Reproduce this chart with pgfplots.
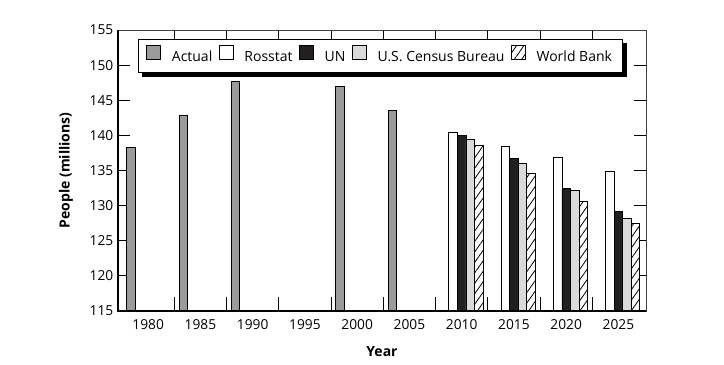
\documentclass[border=0pt]{standalone}
\usepackage{fontspec}
\setmainfont{Open Sans}
\usepackage{pgfplots}
\pgfplotsset{compat=1.18}
\usetikzlibrary{patterns.meta,calc,backgrounds}

\definecolor{actual}{HTML}{9B9B9B}
\definecolor{census}{HTML}{DADADA}
\definecolor{unc}{HTML}{231F20}

\begin{document}
\begin{tikzpicture}
\begin{axis}[
  scale only axis, width=396pt, height=210.75pt,
  xmin=-0.577, xmax=9.528, ymin=115, ymax=155,
  ytick={115,120,...,155},
  xtick={0,1,2,3,4,5,6,7,8,9},
  xticklabels={1980,1985,1990,1995,2000,2005,2010,2015,2020,2025},
  minor xtick={0.5,1.5,2.5,3.5,4.5,5.5,6.5,7.5,8.5},
  major x tick style={draw=none},
  tick align=inside,
  major tick length=9pt,
  minor tick length=10.5pt,
  tick style={black, line width=0.6pt},
  axis line style={draw=black!75, line width=0.6pt},
  /pgf/number format/assume math mode=true,
  tick label style={font=\fontsize{10.3}{12}\selectfont},
  xticklabel style={yshift=-3pt},
  xlabel={\textbf{Year}},
  ylabel={\textbf{People (millions)}},
  label style={font=\fontsize{10.5}{12}\selectfont},
  xlabel style={at={(axis description cs:0.5,-0.146)}, anchor=center},
  ylabel style={at={(axis description cs:-0.0985,0.5)}, anchor=center},
  legend columns=-1,
  legend style={name=leg, at={(rel axis cs:0.038,0.968)}, anchor=north west,
    draw=black, line width=0.6pt, fill=white,
    font=\fontsize{10.5}{12}\selectfont,
    inner xsep=6pt, inner ysep=4.5pt,
    /tikz/every even column/.append style={column sep=3pt},
    /tikz/every odd column/.append style={column sep=6pt}},
  legend image code/.code={\draw[#1, line width=0.6pt] (0pt,-2pt) rectangle (10.5pt,8.5pt);},
  bar width=0.163,
]
\addplot[ybar, bar shift=-0.326, fill=actual, draw=black, line width=0.6pt]
  coordinates {(0,138.3) (1,142.9) (2,147.7) (4,147.0) (5,143.5)};
\addplot[ybar, bar shift=-0.163, fill=white, draw=black, line width=0.6pt]
  coordinates {(6,140.4) (7,138.4) (8,136.9) (9,134.9)};
\addplot[ybar, bar shift=0, fill=unc, draw=black, line width=0.6pt]
  coordinates {(6,140.0) (7,136.7) (8,132.4) (9,129.2)};
\addplot[ybar, bar shift=0.163, fill=census, draw=black, line width=0.6pt]
  coordinates {(6,139.4) (7,136.0) (8,132.2) (9,128.2)};
\addplot[ybar, bar shift=0.326, fill=white, draw=black, line width=0.6pt,
  postaction={pattern={Lines[angle=55,distance=4.5pt,line width=0.6pt]}}]
  coordinates {(6,138.6) (7,134.6) (8,130.6) (9,127.5)};
\legend{Actual,Rosstat,UN,U.S. Census Bureau,World Bank}
\coordinate (sw) at (rel axis cs:0,0);
\coordinate (nw) at (rel axis cs:0,1);
\coordinate (se) at (rel axis cs:1,0);
\coordinate (ne) at (rel axis cs:1,1);
\end{axis}
\begin{pgfonlayer}{background}
\fill[black] ($(leg.south west)+(3pt,-3pt)$) rectangle ($(leg.north east)+(3pt,-3pt)$);
\end{pgfonlayer}
\draw[line width=1.5pt, black] (nw) -- (sw) -- (se);
\pgfresetboundingbox
\path[use as bounding box] ($(sw)+(-88.5pt,-40.5pt)$) rectangle ($(ne)+(58.5pt,22.5pt)$);
\end{tikzpicture}
\end{document}
